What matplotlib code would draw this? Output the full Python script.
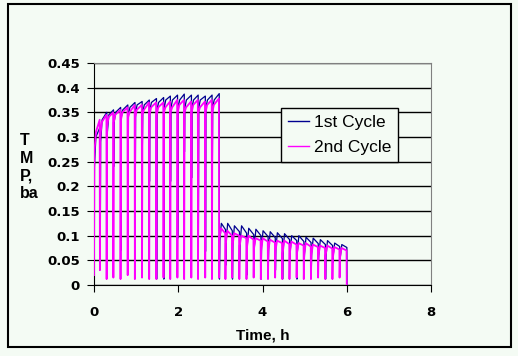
import numpy as np
import matplotlib
matplotlib.use("Agg")
import matplotlib.pyplot as plt
from matplotlib.patches import Rectangle

plt.rcParams["font.family"] = ["Liberation Sans", "DejaVu Sans"]

# backwash (drop) times, h - one per filtration cycle
drop_t = [0.14, 0.30, 0.46, 0.63, 0.80, 0.97, 1.14, 1.31, 1.48, 1.65, 1.81, 1.98,
          2.14, 2.31, 2.47, 2.64, 2.80, 2.97,
          3.12, 3.28, 3.45, 3.62, 3.79, 3.96, 4.13, 4.30, 4.47, 4.64, 4.81, 4.98,
          5.15, 5.32, 5.49, 5.66, 5.83, 6.00]

# 1st cycle (blue): value after return, early peak, value before drop, low after drop
c1_start = [0.24, 0.29, 0.31, 0.33, 0.34, 0.345, 0.35, 0.35, 0.355, 0.355, 0.36, 0.36,
            0.36, 0.36, 0.36, 0.36, 0.36, 0.36,
            0.09, 0.09, 0.085, 0.085, 0.08, 0.08, 0.078, 0.075, 0.075, 0.07, 0.07, 0.068,
            0.065, 0.065, 0.062, 0.06, 0.06, 0.058]
c1_mid = [0.30, 0.335, 0.345, 0.35, 0.355, 0.36, 0.365, 0.365, 0.37, 0.37, 0.375, 0.375,
          0.375, 0.375, 0.375, 0.375, 0.375, 0.375,
          0.125, 0.125, 0.12, 0.12, 0.115, 0.113, 0.11, 0.108, 0.106, 0.104, 0.10, 0.10,
          0.097, 0.095, 0.092, 0.09, 0.085, 0.082]
c1_end = [0.32, 0.35, 0.355, 0.36, 0.365, 0.37, 0.372, 0.375, 0.378, 0.38, 0.383, 0.385,
          0.387, 0.385, 0.385, 0.383, 0.385, 0.388,
          0.112, 0.11, 0.108, 0.105, 0.102, 0.10, 0.098, 0.096, 0.094, 0.092, 0.09, 0.088,
          0.086, 0.084, 0.082, 0.08, 0.078, 0.076]
c1_low = [0.04, 0.12, 0.24, 0.07, 0.135, 0.16, 0.28, 0.21, 0.012, 0.012, 0.21, 0.095,
          0.27, 0.217, 0.095, 0.068, 0.217, 0.012,
          0.04, 0.012, 0.05, 0.02, 0.06, 0.012, 0.04, 0.03, 0.012, 0.05, 0.012, 0.04,
          0.03, 0.05, 0.012, 0.045, 0.03, 0.0]

# 2nd cycle (magenta)
c2_start = [0.27, 0.30, 0.32, 0.33, 0.335, 0.34, 0.34, 0.345, 0.345, 0.345, 0.35, 0.35,
            0.35, 0.35, 0.35, 0.35, 0.35, 0.35,
            0.095, 0.085, 0.08, 0.08, 0.075, 0.075, 0.07, 0.07, 0.07, 0.065, 0.065, 0.065,
            0.06, 0.06, 0.06, 0.06, 0.055, 0.055]
c2_mid = [0.31, 0.33, 0.34, 0.345, 0.35, 0.35, 0.355, 0.355, 0.36, 0.36, 0.36, 0.36,
          0.365, 0.36, 0.365, 0.36, 0.365, 0.365,
          0.115, 0.11, 0.105, 0.10, 0.10, 0.095, 0.095, 0.092, 0.09, 0.09, 0.088, 0.085,
          0.085, 0.082, 0.08, 0.08, 0.077, 0.075]
c2_end = [0.335, 0.345, 0.35, 0.355, 0.36, 0.365, 0.365, 0.37, 0.37, 0.37, 0.372, 0.375,
          0.375, 0.372, 0.375, 0.372, 0.375, 0.378,
          0.105, 0.10, 0.10, 0.095, 0.092, 0.09, 0.088, 0.086, 0.085, 0.083, 0.082, 0.08,
          0.078, 0.077, 0.075, 0.074, 0.072, 0.07]
c2_low = [0.03, 0.012, 0.015, 0.012, 0.02, 0.012, 0.015, 0.012, 0.012, 0.015, 0.012, 0.015,
          0.012, 0.015, 0.012, 0.015, 0.012, 0.015,
          0.012, 0.015, 0.012, 0.012, 0.015, 0.012, 0.012, 0.015, 0.012, 0.012, 0.015, 0.012,
          0.012, 0.015, 0.012, 0.012, 0.015, 0.0]

c1_first = 0.05
c2_first = 0.02

x_ticks = [0, 2, 4, 6, 8]
y_ticks = [0, 0.05, 0.1, 0.15, 0.2, 0.25, 0.3, 0.35, 0.4, 0.45]
y_tick_labels = ["0", "0.05", "0.1", "0.15", "0.2", "0.25", "0.3", "0.35", "0.4", "0.45"]


def build(first, start, mid, end, low, shift):
    t = [0.0]
    v = [first]
    prev = 0.0
    for i, td in enumerate(drop_t):
        td = td + shift
        t += [prev + 0.01, prev + 0.045, td - 0.005, td]
        v += [start[i], mid[i], end[i], low[i]]
        prev = td
    return t, v


t1, v1 = build(c1_first, c1_start, c1_mid, c1_end, c1_low, 0.008)
t2, v2 = build(c2_first, c2_start, c2_mid, c2_end, c2_low, 0.0)

bg = "#f4fbf4"
fig = plt.figure(figsize=(5.18, 3.56), dpi=100, facecolor=bg)
ax = fig.add_axes([94 / 518, 1 - 285 / 356, 337 / 518, 222 / 356], facecolor=bg)

ax.plot(t1, v1, color="#000090", lw=0.9, label="1st Cycle", zorder=3)
ax.plot(t2, v2, color="#ff00ff", lw=1.3, label="2nd Cycle", zorder=4)

ax.set_xlim(0, 8)
ax.set_ylim(0, 0.45)
ax.set_xticks(x_ticks)
ax.set_yticks(y_ticks)
ax.set_yticklabels(y_tick_labels)
ax.yaxis.grid(True, color="black", lw=1)
ax.set_axisbelow(True)
for s in ["top", "right"]:
    ax.spines[s].set_color("#808080")
for s in ["left", "bottom"]:
    ax.spines[s].set_color("black")
ax.tick_params(axis="y", direction="out", length=5, pad=5)
ax.tick_params(axis="x", direction="out", length=5, pad=10)
for lab in ax.get_xticklabels() + ax.get_yticklabels():
    lab.set_fontfamily("DejaVu Sans")
    lab.set_fontweight("bold")
    lab.set_fontsize(9.5)

ax.set_xlabel("Time, h", fontsize=11, fontweight="bold", labelpad=7)
fig.text(20 / 518, 1 - 167 / 356, "T\nM\nP,\nba", fontsize=11.5, fontweight="bold",
         ha="left", va="center", linespacing=1.2)

leg = ax.legend(loc="upper left", bbox_to_anchor=(281 / 518, 1 - 108 / 356),
                bbox_transform=fig.transFigure, borderaxespad=0, fancybox=False,
                framealpha=1, facecolor=bg, edgecolor="black", fontsize=12.5,
                handlelength=1.2, handletextpad=0.3, labelspacing=0.55, borderpad=0.4)
leg.get_frame().set_linewidth(1)
for line in leg.get_lines():
    line.set_linewidth(1)

fig.patches.append(Rectangle((8 / 518, 1 - 347 / 356), 503 / 518, 343 / 356,
                             transform=fig.transFigure, fill=False, ec="black", lw=1.5))

fig.savefig("out.png", dpi=100, facecolor=bg)
